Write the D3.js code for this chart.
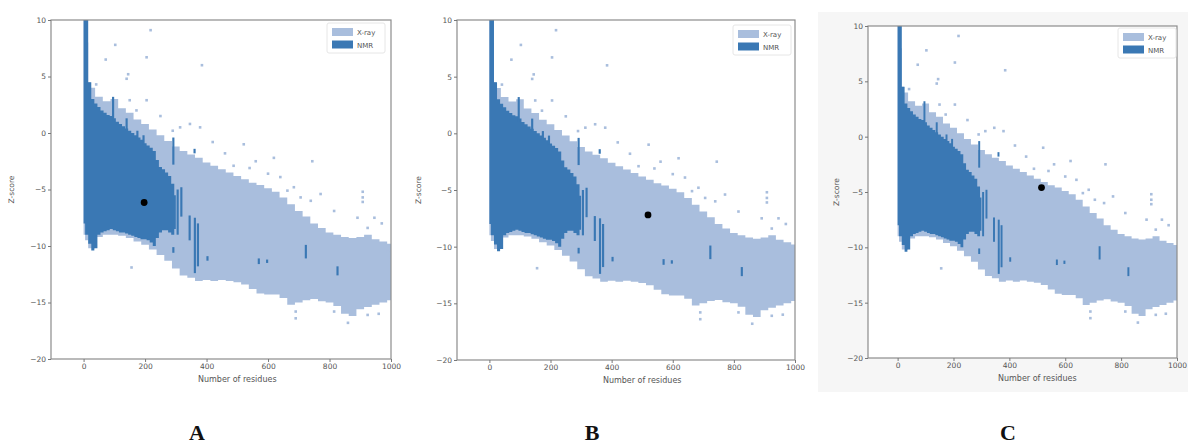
<!DOCTYPE html>
<html><head><meta charset="utf-8">
<script src="https://cdn.jsdelivr.net/npm/d3@7"></script>
<style>body{margin:0;background:#fff}svg{display:block}</style>
</head><body>
<svg id="c" width="1188" height="446"></svg>
<script>
// ---------- data ----------
const xTicks = [0, 200, 400, 600, 800, 1000];
const yTicks = [10, 5, 0, -5, -10, -15, -20];
const seriesNames = ["X-ray", "NMR"];
const panelLabels = ["A", "B", "C"];
const queryX = [197, 519, 515];
const queryZ = [-6.15, -7.2, -4.6];

// X-ray cloud envelope (number of residues -> upper / lower Z-score)
const xrayX     = [0, 10, 20, 25, 50, 75, 100, 125, 150, 175, 200, 225, 250, 275, 300, 325, 350, 375, 400, 425, 450, 475, 500, 525, 550, 575, 600, 625, 650, 675, 700, 725, 750, 775, 800, 825, 850, 875, 900, 925, 950, 975, 1000];
const xrayUpper = [10, 8, 4.5, 4, 3.2, 2.8, 3.0, 2.2, 1.8, 1.2, 0.8, 0.3, -0.2, -0.7, -1.2, -1.6, -1.9, -2.2, -2.6, -2.9, -3.2, -3.5, -3.8, -4.1, -4.4, -4.6, -4.9, -5.2, -5.7, -6.3, -6.9, -7.4, -8.0, -8.4, -8.8, -9.0, -9.2, -9.3, -9.2, -9.0, -9.4, -9.6, -9.8];
const xrayLower = [-9, -9.5, -10.2, -10.2, -9.2, -9.0, -9.0, -9.1, -9.3, -9.6, -9.9, -10.3, -10.8, -11.3, -12.0, -12.6, -12.8, -13.1, -13.0, -13.1, -13.0, -13.1, -13.2, -13.4, -13.8, -14.2, -14.3, -14.3, -14.6, -15.2, -15.0, -14.8, -14.7, -14.9, -15.0, -15.3, -16.0, -16.2, -15.6, -15.4, -15.2, -15.0, -14.8];

// NMR cloud envelope
const nmrX     = [0, 10, 20, 30, 40, 50, 60, 70, 80, 90, 100, 110, 120, 130, 140, 150, 160, 170, 180, 190, 200, 210, 220, 230, 240, 250, 260, 270, 280, 290, 300];
const nmrUpper = [10, 10, 4.5, 3.0, 2.6, 2.3, 2.0, 1.8, 1.6, 1.5, 1.3, 1.0, 0.8, 0.6, 0.4, 0.2, 0.0, -0.2, -0.4, -0.6, -0.9, -1.1, -1.3, -1.6, -2.4, -3.0, -3.2, -3.5, -3.8, -4.5, -5.5];
const nmrLower = [-8.0, -9.0, -9.8, -10.4, -10.2, -9.0, -8.8, -8.7, -8.6, -8.5, -8.6, -8.7, -8.8, -8.8, -8.9, -9.0, -9.1, -9.2, -9.3, -9.4, -9.4, -9.5, -9.7, -10.0, -9.3, -8.8, -8.6, -8.6, -8.8, -9.0, -8.5];

// NMR vertical streaks: residues, top Z, bottom Z
const streakX   = [96, 140, 175, 195, 292, 306, 318, 345, 362, 372, 292, 403, 570, 597, 723, 826, 361];
const streakTop = [3.2, 1.3, 0.2, -0.2, -0.4, -5.0, -4.8, -7.3, -7.5, -8.0, -10.1, -10.9, -11.1, -11.2, -9.9, -11.8, -1.4];
const streakBot = [1.0, 0.2, -0.5, -1.0, -2.8, -9.0, -7.4, -9.5, -12.4, -11.8, -10.6, -11.3, -11.6, -11.5, -11.1, -12.6, -1.8];

// scattered X-ray points outside the dense cloud
const outX = [218, 205, 103, 72, 145, 140, 385, 41, 150, 172, 205, 250, 314, 346, 379, 290, 420, 521, 460, 488, 560, 619, 744, 663, 684, 706, 739, 771, 908, 908, 908, 815, 891, 924, 946, 970, 156, 924, 815, 690, 690, 860, 960, 990, 1000, 640, 600, 540];
const outZ = [9.1, 6.7, 7.8, 6.5, 5.2, 4.8, 6.0, 4.3, 2.9, 2.0, 2.9, 1.5, 0.5, 0.8, 0.5, 0.2, -0.8, -1.0, -1.8, -2.9, -2.5, -2.2, -2.5, -5.1, -4.8, -5.7, -6.0, -5.4, -5.2, -5.7, -6.1, -6.9, -7.5, -8.4, -7.5, -8.0, -11.9, -16.1, -15.8, -16.4, -15.8, -16.8, -16.0, -10.5, -11.0, -3.9, -3.6, -3.1];

// ---------- layout ----------
const XRAY = "#a9bedd", NMRC = "#3a78b4";
const panels = [
  {l: 51,  r: 391,  t: 20, b: 359, ylab: 14,  lx: 197,  legX: 332,  legY: 28},
  {l: 457, r: 795,  t: 20, b: 360, ylab: 421, lx: 592,  legX: 738,  legY: 30},
  {l: 868, r: 1177, t: 26, b: 358, ylab: 839, lx: 1008, legX: 1123, legY: 33}
];
const svg = d3.select("#c");
svg.append("rect").attr("x", 818).attr("y", 12).attr("width", 370).attr("height", 380).attr("fill", "#f6f6f6");

const xray = xrayX.map((x, i) => ({x, hi: xrayUpper[i], lo: xrayLower[i]}));
const nmr = nmrX.map((x, i) => ({x, hi: nmrUpper[i], lo: nmrLower[i]}));

panels.forEach((p, pi) => {
  const g = svg.append("g");
  const x = d3.scaleLinear().domain([-106, 1000]).range([p.l, p.r]);
  const y = d3.scaleLinear().domain([-20, 10]).range([p.b, p.t]);
  const cid = "clip" + pi;
  g.append("clipPath").attr("id", cid).append("rect")
    .attr("x", p.l).attr("y", p.t).attr("width", p.r - p.l).attr("height", p.b - p.t);
  g.append("rect").attr("x", p.l).attr("y", p.t).attr("width", p.r - p.l).attr("height", p.b - p.t).attr("fill", "#fff");
  const pg = g.append("g").attr("clip-path", `url(#${cid})`);
  const area = d3.area().x(d => x(d.x)).y0(d => y(d.lo)).y1(d => y(d.hi)).curve(d3.curveStep);
  pg.append("path").datum(xray).attr("d", area).attr("fill", XRAY);
  pg.selectAll(".o").data(outX).join("rect")
    .attr("x", (d, i) => x(d) - 1.3).attr("y", (d, i) => y(outZ[i]) - 1.3)
    .attr("width", 2.6).attr("height", 2.6).attr("fill", XRAY);
  pg.append("path").datum(nmr).attr("d", area).attr("fill", NMRC);
  pg.selectAll(".s").data(streakX).join("rect")
    .attr("x", d => x(d - 3.5)).attr("width", d => x(d + 3.5) - x(d - 3.5))
    .attr("y", (d, i) => y(streakTop[i])).attr("height", (d, i) => y(streakBot[i]) - y(streakTop[i]))
    .attr("fill", NMRC);
  pg.append("circle").attr("cx", x(queryX[pi])).attr("cy", y(queryZ[pi])).attr("r", 3.4).attr("fill", "#000");

  // frame
  g.append("rect").attr("x", p.l).attr("y", p.t).attr("width", p.r - p.l).attr("height", p.b - p.t)
    .attr("fill", "none").attr("stroke", "#8c8c8c").attr("stroke-width", 1.2);
  // axes
  const ax = g.append("g").attr("transform", `translate(0,${p.b})`)
    .call(d3.axisBottom(x).tickValues(xTicks).tickFormat(d3.format("d")).tickSize(3).tickPadding(2));
  const ay = g.append("g").attr("transform", `translate(${p.l},0)`)
    .call(d3.axisLeft(y).tickValues(yTicks).tickFormat(d3.format("d")).tickSize(3).tickPadding(2));
  [ax, ay].forEach(a => {
    a.select(".domain").remove();
    a.selectAll("line").attr("stroke", "#777");
    a.selectAll("text").attr("fill", "#555").attr("font-family", "DejaVu Sans").attr("font-size", 7.5);
  });
  g.append("text").attr("x", (x(0) + x(1000)) / 2).attr("y", p.b + 23)
    .attr("text-anchor", "middle").attr("font-family", "DejaVu Sans").attr("font-size", 8).attr("fill", "#555")
    .text("Number of residues");
  g.append("text").attr("transform", `translate(${p.ylab},${(p.t + p.b) / 2}) rotate(-90)`)
    .attr("text-anchor", "middle").attr("font-family", "DejaVu Sans").attr("font-size", 7.5).attr("fill", "#555")
    .text("Z-score");

  // legend
  g.append("rect").attr("x", p.legX - 5).attr("y", p.legY - 5).attr("width", 58).attr("height", 30)
    .attr("rx", 2).attr("fill", "#fff").attr("stroke", "#e6e6e6");
  [XRAY, NMRC].forEach((c, i) => {
    g.append("rect").attr("x", p.legX).attr("y", p.legY + i * 12.5).attr("width", 21).attr("height", 8).attr("fill", c);
    g.append("text").attr("x", p.legX + 25).attr("y", p.legY + i * 12.5 + 7)
      .attr("font-family", "DejaVu Sans").attr("font-size", 7).attr("fill", "#555").text(seriesNames[i]);
  });

  // panel label
  svg.append("text").attr("x", p.lx).attr("y", 440).attr("text-anchor", "middle")
    .attr("font-family", "Liberation Serif").attr("font-weight", "bold").attr("font-size", 22).attr("fill", "#111")
    .text(panelLabels[pi]);
});
</script>
</body></html>
